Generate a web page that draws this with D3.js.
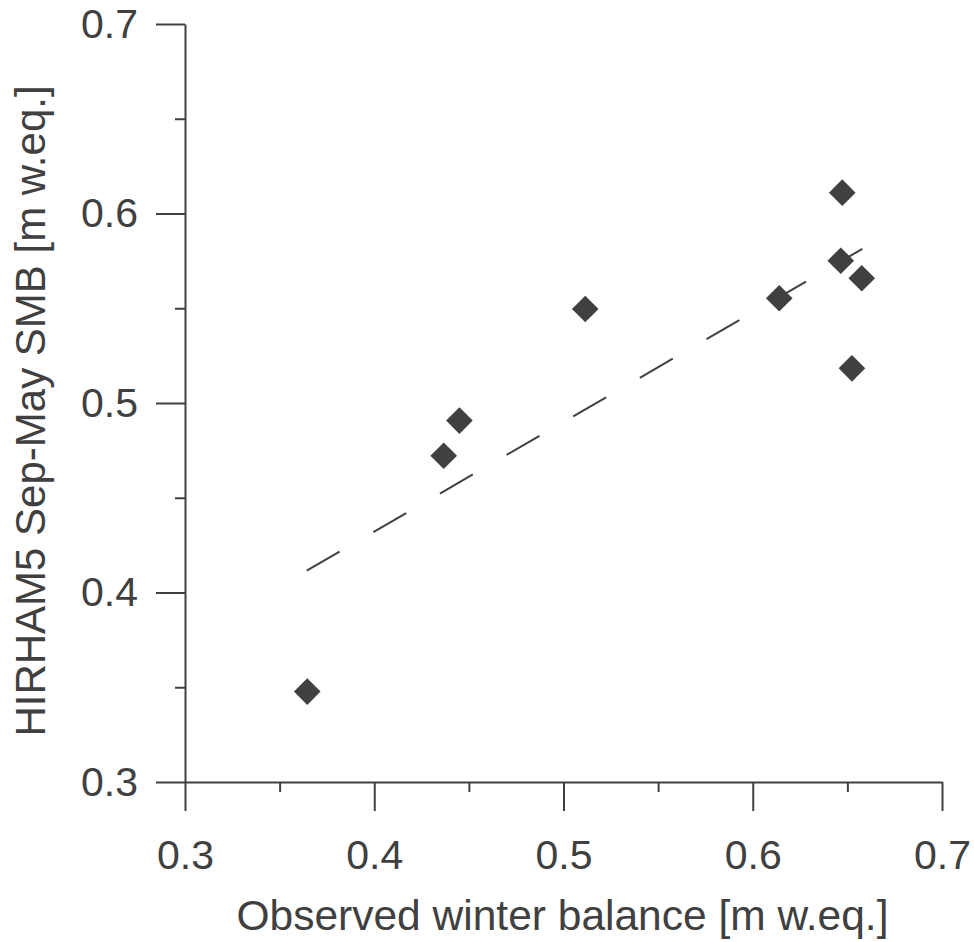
<!DOCTYPE html>
<html>
<head>
<meta charset="utf-8">
<script src="https://cdn.jsdelivr.net/npm/d3@7"></script>
<style>
  body { margin: 0; background: #ffffff; }
  svg { display: block; font-family: "Liberation Sans", Arial, sans-serif; }
</style>
</head>
<body>
<svg width="974" height="942"></svg>
<script>
// Datos
const observed = [0.3646, 0.4367, 0.4450, 0.5115, 0.6140, 0.6473, 0.6465, 0.6576, 0.6524]
const hirham = [0.3477, 0.4722, 0.4907, 0.5496, 0.5553, 0.6110, 0.5751, 0.5658, 0.5183]
const fitX = [0.3643, 0.6579]
const fitY = [0.4115, 0.5813]
const majorTicks = [0.3, 0.4, 0.5, 0.6, 0.7]
const minorTicks = [0.35, 0.45, 0.55, 0.65]

const marginLeft = 185
const marginTop = 24
const chartWidth = 757
const chartHeight = 758
const ink = '#404040'

const xScale = d3.scaleLinear([0.3, 0.7], [0, chartWidth])
const yScale = d3.scaleLinear([0.3, 0.7], [chartHeight, 0])

const svg = d3.select('svg')
const chart = svg.append('g')
  .attr('transform', `translate(${marginLeft}, ${marginTop})`)

// Línea de ajuste (discontinua)
chart.append('line')
  .attr('x1', xScale(fitX[0]))
  .attr('y1', yScale(fitY[0]))
  .attr('x2', xScale(fitX[1]))
  .attr('y2', yScale(fitY[1]))
  .attr('stroke', ink)
  .attr('stroke-width', 2)
  .attr('stroke-dasharray', '38,39')

// Diamantes
const points = observed.map((d, i) => ({x: d, y: hirham[i]}))
chart.selectAll('path.dot')
  .data(points)
  .join('path')
    .attr('class', 'dot')
    .attr('d', d3.symbol(d3.symbolSquare, 354))
    .attr('transform', d => `translate(${xScale(d.x)}, ${yScale(d.y)}) rotate(45)`)
    .attr('fill', ink)

// Ejes
function styleAxis(g) {
  g.selectAll('path, line').attr('stroke', ink).attr('stroke-width', 2)
  g.selectAll('text').attr('fill', ink).attr('font-size', '41px')
    .attr('font-family', '"Liberation Sans", Arial, sans-serif')
}

const xMinor = chart.append('g')
  .attr('transform', `translate(0, ${chartHeight})`)
  .call(d3.axisBottom(xScale).tickValues(minorTicks).tickSize(10).tickFormat(''))
xMinor.select('.domain').remove()
styleAxis(xMinor)

const xAxis = chart.append('g')
  .attr('transform', `translate(0, ${chartHeight})`)
  .call(d3.axisBottom(xScale).tickValues(majorTicks).tickSize(29).tickSizeOuter(0)
    .tickPadding(29).tickFormat(d3.format('.1f')))
styleAxis(xAxis)

const yMinor = chart.append('g')
  .call(d3.axisLeft(yScale).tickValues(minorTicks).tickSize(10).tickFormat(''))
yMinor.select('.domain').remove()
styleAxis(yMinor)

const yAxis = chart.append('g')
  .call(d3.axisLeft(yScale).tickValues(majorTicks).tickSize(29).tickSizeOuter(0)
    .tickPadding(18).tickFormat(d3.format('.1f')))
styleAxis(yAxis)

// Títulos de ejes
svg.append('text')
  .text('Observed winter balance [m w.eq.]')
  .attr('x', marginLeft + chartWidth / 2 - 1)
  .attr('y', 930)
  .attr('text-anchor', 'middle')
  .attr('font-size', '42.5px')
  .attr('fill', ink)

svg.append('text')
  .text('HIRHAM5 Sep-May SMB [m w.eq.]')
  .attr('transform', `translate(45, ${marginTop + chartHeight / 2 + 8}) rotate(-90)`)
  .attr('text-anchor', 'middle')
  .attr('font-size', '42px')
  .attr('fill', ink)
</script>
</body>
</html>
